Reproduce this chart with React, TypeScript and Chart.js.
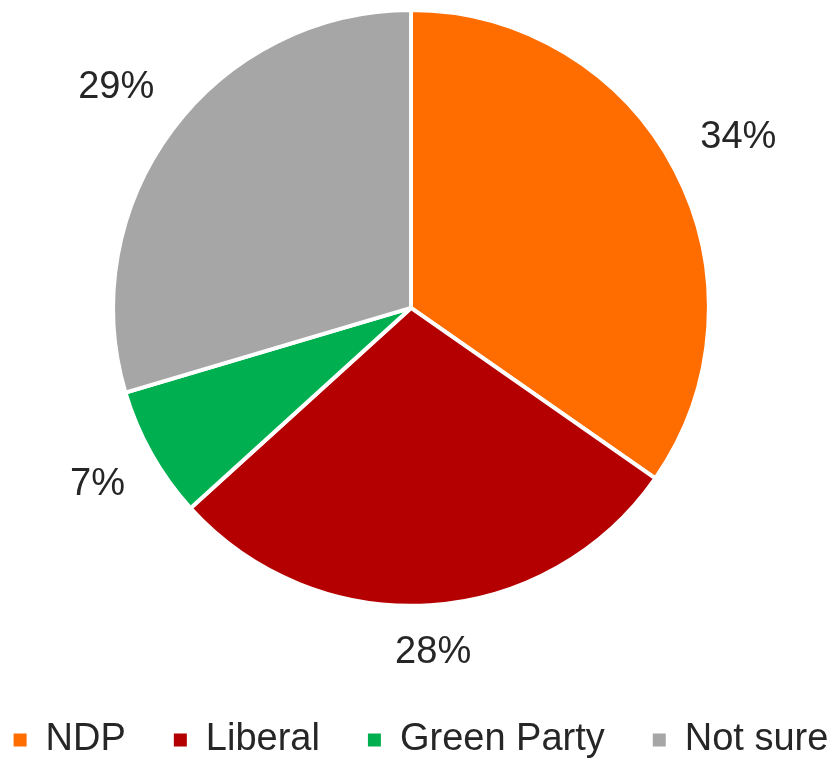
import React, { useEffect, useRef } from "react";
import { Chart, registerables } from "chart.js";

Chart.register(...registerables);

const categories = ["NDP", "Liberal", "Green Party", "Not sure"];
const shares = [34, 28, 7, 29];
const sliceColors = ["#FF6D00", "#B40000", "#00B050", "#A6A6A6"];

const FONT = "'Liberation Sans', Arial, sans-serif";
const TEXT_COLOR = "#262626";
const FONT_SIZE = 38;

// nudges the plot area a few pixels left so the pie sits left of the legend's centre
const shiftArea = {
  id: "shiftArea",
  afterLayout(chart: any) {
    const a = chart.chartArea;
    a.left -= 4.5;
    a.right -= 4.5;
  },
};

const pctLabels = {
  id: "pctLabels",
  afterDatasetsDraw(chart: any) {
    const meta = chart.getDatasetMeta(0);
    const ds = chart.data.datasets[0];
    const ctx = chart.ctx;
    ctx.save();
    ctx.font = `${FONT_SIZE}px ${FONT}`;
    ctx.fillStyle = TEXT_COLOR;
    ctx.textAlign = "center";
    ctx.textBaseline = "middle";
    meta.data.forEach((arc: any, i: number) => {
      const p = arc.getProps(["x", "y", "startAngle", "endAngle", "outerRadius"], true);
      const mid = (p.startAngle + p.endAngle) / 2;
      const txt = `${ds.data[i]}%`;
      const w = ctx.measureText(txt).width;
      const h = FONT_SIZE * 0.75;
      const c = Math.cos(mid);
      const s = Math.sin(mid);
      const ext = Math.abs(c) * w / 2 + Math.abs(s) * h / 2;
      const r = p.outerRadius + 31 + ext;
      ctx.fillText(txt, p.x + c * r, p.y + s * r);
    });
    ctx.restore();
  },
};

export default function App() {
  const ref = useRef<HTMLCanvasElement | null>(null);
  useEffect(() => {
    if (!ref.current) return;
    const chart = new Chart(ref.current, {
      type: "pie",
      data: {
        labels: categories,
        datasets: [
          {
            data: shares,
            backgroundColor: sliceColors,
            borderColor: "#FFFFFF",
            borderWidth: 4,
          },
        ],
      },
      options: {
        responsive: false,
        animation: false,
        layout: { padding: { top: 8, left: -45, right: -56, bottom: -3 } },
        plugins: {
          tooltip: { enabled: false },
          legend: {
            position: "bottom",
            align: "center",
            title: { display: true, text: " ", font: { size: 1 }, padding: { top: 32, bottom: 32 } },
            labels: {
              boxWidth: 13,
              boxHeight: 13,
              padding: 48,
              color: TEXT_COLOR,
              font: { size: FONT_SIZE, family: FONT },
              generateLabels(chart: any) {
                const items = Chart.overrides.pie.plugins.legend.labels.generateLabels(chart);
                return items.map((it: any) => ({ ...it, lineWidth: 0, strokeStyle: "rgba(0,0,0,0)" }));
              },
            },
          },
        },
      },
      plugins: [shiftArea, pctLabels],
    });
    return () => chart.destroy();
  }, []);
  return (
    <div style={{ position: "absolute", left: 0, top: 0, width: 831, height: 766, background: "#fff" }}>
      <canvas ref={ref} width={831} height={766} style={{ display: "block" }} />
    </div>
  );
}
